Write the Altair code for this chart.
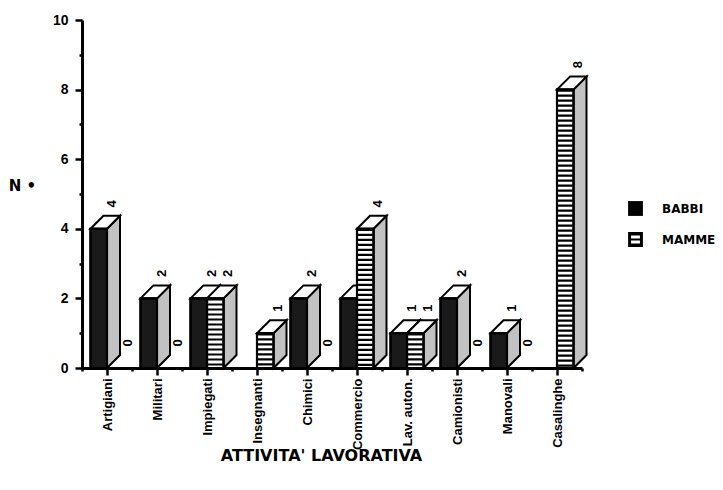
import json
import altair as alt
import pandas as pd

# ---- data ----
categories = ["Artigiani", "Militari", "Impiegati", "Insegnanti", "Chimici",
              "Commercio", "Lav. auton.", "Camionisti", "Manovali", "Casalinghe"]
babbi = [4, 2, 2, 0, 2, 2, 1, 2, 1, 0]
mamme = [0, 0, 2, 1, 0, 4, 1, 0, 0, 8]
series = ["BABBI", "MAMME"]
y_ticks = [0, 1, 2, 3, 4, 5, 6, 7, 8, 9, 10]

# ---- geometry helpers (plot size / 3-D depth) ----
W, H = 500, 348
XMIN, XMAX = -0.5, 9.5
YMAX = 10
BAR = 0.33            # bar width in category units
DEPTH_PX = 13
DX = DEPTH_PX * (XMAX - XMIN) / W
DY = DEPTH_PX * YMAX / H

fronts, sides, tops, labels = [], [], [], []
for i, cat in enumerate(categories):
    for s, vals in enumerate((babbi, mamme)):
        v = vals[i]
        name = series[s]
        x0 = i - BAR + s * BAR
        x1 = x0 + BAR
        xc = (x0 + x1) / 2
        labels.append(dict(x=xc + DX, y=v + DY, t=str(v)))
        if v <= 0:
            continue
        fid = f"{cat}-{name}"
        fronts.append(dict(cat=cat, serie=name, x0=x0, x1=x1, xc=xc, v=v,
                           fillc="#1a1a1a" if s == 0 else "white"))
        sides.append(dict(f=fid, x=x1, y=v, y2=0))
        sides.append(dict(f=fid, x=x1 + DX, y=v + DY, y2=DY))
        tops.append(dict(f=fid, y=v, x=x0, x2=x1))
        tops.append(dict(f=fid, y=v + DY, x=x0 + DX, x2=x1 + DX))

fronts = pd.DataFrame(fronts)
sides = pd.DataFrame(sides)
tops = pd.DataFrame(tops)
labels = pd.DataFrame(labels)
stripes = fronts[fronts.serie == "MAMME"]

xscale = alt.Scale(domain=[XMIN, XMAX], nice=False, zero=False)
yscale = alt.Scale(domain=[0, YMAX], nice=False)

x_vals = [k / 2 for k in range(-1, 20)]
xax = alt.Axis(
    values=x_vals,
    labelExpr=f"datum.value % 1 ? '' : {json.dumps(categories)}[datum.value]",
    labelAngle=270, labelAlign="right", labelBaseline="middle",
    labelFont="Liberation Sans", labelFontSize=13, labelFontWeight="bold",
    labelColor="black", labelPadding=3, labelOverlap=False, labelFlush=False,
    tickSize={"condition": {"test": "datum.value % 1", "value": 3}, "value": 7},
    tickWidth=2.5, tickColor="black", domainColor="black", domainWidth=3,
    grid=False,
    title="ATTIVITA'  LAVORATIVA", titleFont="DejaVu Sans", titleFontSize=16,
    titleFontWeight="bold", titleColor="black",
    titleX=239, titleY=87, titleAlign="center", titleBaseline="middle",
)
yax = alt.Axis(
    values=y_ticks,
    labelExpr="datum.value % 2 ? '' : datum.label",
    labelFont="Liberation Sans", labelFontSize=14, labelFontWeight="bold",
    labelColor="black", labelPadding=7,
    tickSize={"condition": {"test": "datum.value % 2", "value": 3}, "value": 7},
    tickWidth=2.5, tickColor="black", domainColor="black", domainWidth=3,
    grid=False,
    title="N  •", titleAngle=0, titleFont="DejaVu Sans", titleFontSize=15,
    titleFontWeight="bold", titleColor="black",
    titleX=-60, titleY=165, titleAlign="center", titleBaseline="middle",
)

square_path = "M-1,-1H1V1H-1Z"
mamme_path = ("M-1,-1H1V1H-1Z"
              "M-0.6,-0.55V-0.12H0.6V-0.55Z"
              "M-0.6,0.12V0.55H0.6V0.12Z")

legend_pts = alt.Chart(fronts).mark_point(
    filled=True, color="black", size=10, opacity=1,
).encode(
    x=alt.X("xc:Q", scale=xscale, axis=xax),
    y=alt.Y("v:Q", scale=yscale, axis=yax),
    shape=alt.Shape(
        "serie:N",
        scale=alt.Scale(domain=series, range=[square_path, mamme_path]),
        legend=alt.Legend(
            title=None, orient="none", legendX=546, legendY=181,
            symbolSize=220, symbolFillColor="black", symbolStrokeWidth=0,
            symbolOpacity=1,
            labelFont="DejaVu Sans", labelFontSize=12, labelFontWeight="bold",
            labelColor="black", labelOffset=19, rowPadding=16, padding=0,
        ),
    ),
)

value_labels = alt.Chart(labels).mark_text(
    angle=270, align="center", baseline="middle", yOffset=-12,
    font="Liberation Sans", fontSize=13, fontWeight="bold", color="black",
).encode(
    x=alt.X("x:Q", scale=xscale, axis=xax),
    y=alt.Y("y:Q", scale=yscale, axis=yax),
    text="t:N",
)

side_faces = alt.Chart(sides).mark_area(
    orient="vertical", fill="#c2c2c2", stroke="black", strokeWidth=2,
    strokeJoin="miter", opacity=1,
).encode(
    x=alt.X("x:Q", scale=xscale, axis=xax),
    y=alt.Y("y:Q", scale=yscale, axis=yax),
    y2="y2:Q",
    detail="f:N",
)

top_faces = alt.Chart(tops).mark_area(
    orient="horizontal", fill="white", stroke="black", strokeWidth=2,
    strokeJoin="miter", opacity=1,
).encode(
    y=alt.Y("y:Q", scale=yscale, axis=yax),
    x=alt.X("x:Q", scale=xscale, axis=xax),
    x2="x2:Q",
    detail="f:N",
)

front_faces = alt.Chart(fronts).mark_rect(stroke="black", strokeWidth=2).encode(
    x=alt.X("x0:Q", scale=xscale, axis=xax),
    x2="x1:Q",
    y=alt.Y("v:Q", scale=yscale, axis=yax),
    y2=alt.datum(0),
    fill=alt.Fill("fillc:N", scale=None),
)

stripe_marks = alt.Chart(stripes).mark_rule(
    color="black", strokeWidth=15, strokeDash=[2.2, 2.8], strokeCap="butt",
).encode(
    x=alt.X("xc:Q", scale=xscale, axis=xax),
    y=alt.Y("v:Q", scale=yscale, axis=yax),
    y2=alt.datum(0),
)

outlines = alt.Chart(fronts).mark_rect(
    fillOpacity=0, stroke="black", strokeWidth=2.2,
).encode(
    x=alt.X("x0:Q", scale=xscale, axis=xax),
    x2="x1:Q",
    y=alt.Y("v:Q", scale=yscale, axis=yax),
    y2=alt.datum(0),
)

chart = alt.layer(
    legend_pts, value_labels, side_faces, top_faces, front_faces, stripe_marks, outlines
).properties(
    width=W, height=H,
    autosize=alt.AutoSizeParams(type="none"),
    padding={"left": 74, "top": 12, "right": 133, "bottom": 110},
    background="white",
).configure_view(strokeWidth=0)

chart.save("out.html", embed_options={"renderer": "svg", "actions": False})
